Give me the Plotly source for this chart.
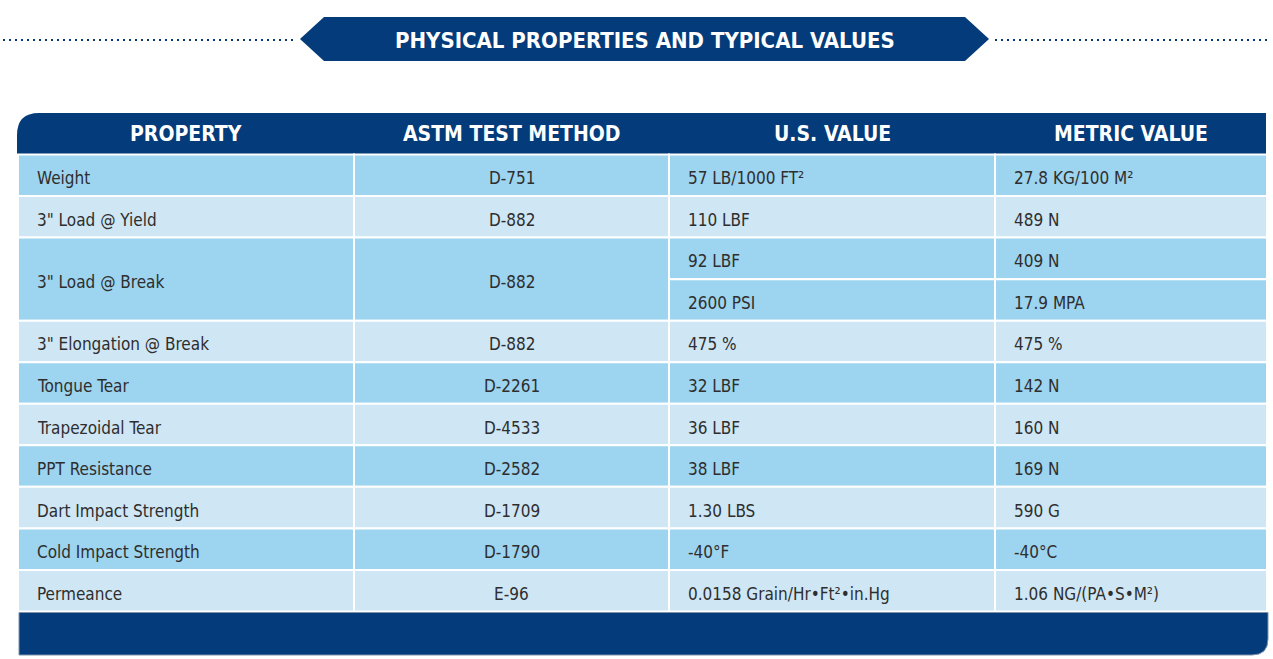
import plotly.graph_objects as go

# ---------------- data ----------------
title_text = "PHYSICAL PROPERTIES AND TYPICAL VALUES"
headers = ["PROPERTY", "ASTM TEST METHOD", "U.S. VALUE", "METRIC VALUE"]
properties = ["Weight", '3" Load @ Yield', '3" Load @ Break', '3" Elongation @ Break',
              "Tongue Tear", "Trapezoidal Tear", "PPT Resistance",
              "Dart Impact Strength", "Cold Impact Strength", "Permeance"]
methods = ["D-751", "D-882", "D-882", "D-882", "D-2261", "D-4533", "D-2582",
           "D-1709", "D-1790", "E-96"]
us_values = [["57 LB/1000 FT²"], ["110 LBF"], ["92 LBF", "2600 PSI"], ["475 %"],
             ["32 LBF"], ["36 LBF"], ["38 LBF"], ["1.30 LBS"], ["-40°F"],
             ["0.0158 Grain/Hr•Ft²•in.Hg"]]
metric_values = [["27.8 KG/100 M²"], ["489 N"], ["409 N", "17.9 MPA"], ["475 %"],
                 ["142 N"], ["160 N"], ["169 N"], ["590 G"], ["-40°C"],
                 ["1.06 NG/(PA•S•M²)"]]

# ---------------- layout constants ----------------
W, H = 1273, 659
NAVY = "#033b7b"
DARK_ROW = "#9dd4ef"
LIGHT_ROW = "#cfe6f5"
TEXT = "#2e2e2e"
col_edges = [18, 354, 669, 995, 1267]
body_top = 154.5
body_bottom = 611.5
n_sub = sum(len(v) for v in us_values)
sub_h = (body_bottom - body_top) / n_sub
body_font = "DejaVu Sans Condensed, Liberation Sans Narrow, sans-serif"
head_font = "DejaVu Sans Condensed, Liberation Sans Narrow, sans-serif"

fig = go.Figure()
fig.add_trace(go.Scatter(x=[0, W], y=[0, H], mode="markers",
                         marker=dict(opacity=0), hoverinfo="skip", showlegend=False))

shapes = []
annotations = []

# title banner
bx0, bx1, by0, by1, tip = 300, 989, 17, 61, 24
bym = (by0 + by1) / 2
shapes.append(dict(type="path", path=f"M {bx0} {bym} L {bx0+tip} {by0} L {bx1-tip} {by0} L {bx1} {bym} L {bx1-tip} {by1} L {bx0+tip} {by1} Z",
                   fillcolor=NAVY, line=dict(width=0), layer="above"))
for xa, xb in [(3, 294), (995, 1271)]:
    shapes.append(dict(type="line", x0=xa, x1=xb, y0=bym + 1, y1=bym + 1,
                       line=dict(color=NAVY, width=2, dash="2px,4px")))
annotations.append(dict(x=(bx0 + bx1) / 2, y=bym + 1, text=title_text, showarrow=False,
                        font=dict(family=head_font, size=22, color="white", weight="bold"),
                        xanchor="center", yanchor="middle"))

# header band with rounded top-left corner
hx0, hx1, hy0, hy1, r = col_edges[0] - 1, col_edges[-1] - 1, 113, 154, 22
shapes.append(dict(type="path",
                   path=f"M {hx0} {hy1} L {hx0} {hy0+r} Q {hx0} {hy0} {hx0+r} {hy0} L {hx1} {hy0} L {hx1} {hy1} Z",
                   fillcolor=NAVY, line=dict(width=0)))
for i, h in enumerate(headers):
    annotations.append(dict(x=(col_edges[i] + col_edges[i + 1]) / 2, y=(hy0 + hy1) / 2,
                            text=h, showarrow=False, xanchor="center", yanchor="middle",
                            font=dict(family=head_font, size=21, color="white", weight="bold")))

# body cells
pad = 17
fs = 17
dy = 3
sub = 0
for i, prop in enumerate(properties):
    n = len(us_values[i])
    y0 = body_top + sub * sub_h
    y1 = y0 + n * sub_h
    fill = DARK_ROW if i % 2 == 0 else LIGHT_ROW
    ym = (y0 + y1) / 2
    for c in (0, 1):
        shapes.append(dict(type="rect", x0=col_edges[c], x1=col_edges[c + 1], y0=y0, y1=y1,
                           fillcolor=fill, line=dict(color="white", width=2)))
    annotations.append(dict(x=col_edges[0] + pad, y=ym + dy, text=prop, showarrow=False,
                            xanchor="left", yanchor="middle",
                            font=dict(family=body_font, size=fs, color=TEXT)))
    annotations.append(dict(x=(col_edges[1] + col_edges[2]) / 2, y=ym + dy, text=methods[i],
                            showarrow=False, xanchor="center", yanchor="middle",
                            font=dict(family=body_font, size=fs, color=TEXT)))
    for k in range(n):
        sy0 = y0 + k * sub_h
        sy1 = sy0 + sub_h
        for c, vals in ((2, us_values), (3, metric_values)):
            shapes.append(dict(type="rect", x0=col_edges[c], x1=col_edges[c + 1], y0=sy0, y1=sy1,
                               fillcolor=fill, line=dict(color="white", width=2)))
            annotations.append(dict(x=col_edges[c] + pad, y=(sy0 + sy1) / 2 + dy, text=vals[i][k],
                                    showarrow=False, xanchor="left", yanchor="middle",
                                    font=dict(family=body_font, size=fs, color=TEXT)))
    sub += n

# footer band with rounded bottom-right corner
fx0, fx1, fy0, fy1, fr = 19, 1268, body_bottom + 1, 655, 16
shapes.append(dict(type="path",
                   path=f"M {fx0} {fy0} L {fx1} {fy0} L {fx1} {fy1-fr} Q {fx1} {fy1} {fx1-fr} {fy1} L {fx0} {fy1} Z",
                   fillcolor=NAVY, line=dict(color="#7f93ad", width=1)))

fig.update_layout(
    width=W, height=H, margin=dict(l=0, r=0, t=0, b=0),
    paper_bgcolor="white", plot_bgcolor="white",
    xaxis=dict(range=[0, W], visible=False, fixedrange=True),
    yaxis=dict(range=[H, 0], visible=False, fixedrange=True),
    shapes=shapes, annotations=annotations, showlegend=False,
)
fig.write_html("out.html", config={"displayModeBar": False},
               post_script="document.body.style.margin='0';document.body.style.overflow='hidden';")
